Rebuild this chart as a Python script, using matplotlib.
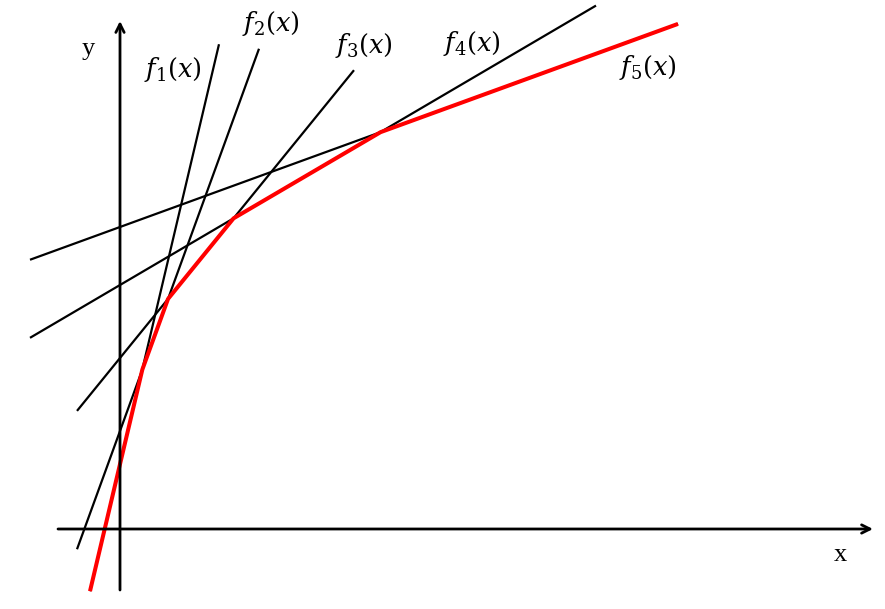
import matplotlib.pyplot as plt
import numpy as np

# lines f_i(x) = slope * x + intercept, drawn between x_start and x_end
labels = ["$f_1(x)$", "$f_2(x)$", "$f_3(x)$", "$f_4(x)$", "$f_5(x)$"]
slopes = [4.24, 2.75, 1.23, 0.587, 0.364]
intercepts = [0.65, 0.98, 1.71, 2.44, 3.02]
x_start = [-0.30, -0.43, -0.43, -0.90, -0.90]
x_end = [0.99, 1.39, 2.34, 4.76, 5.58]
label_pos = [(0.53, 4.60), (1.51, 5.05), (2.44, 4.84), (3.52, 4.85), (5.28, 4.61)]

# lower envelope range
env_start = -0.30
env_end = 5.58


def main():
    plt.rcParams["mathtext.fontset"] = "dejavuserif"
    fig = plt.figure(figsize=(8.85, 6.09), dpi=100)
    ax = fig.add_axes([0, 0, 1, 1])
    ax.set_xlim(-1.20, 7.65)
    ax.set_ylim(-0.80, 5.29)
    ax.axis("off")

    # axes with arrows
    ax.annotate("", xy=(7.53, 0), xytext=(-0.62, 0),
                arrowprops=dict(arrowstyle="->,head_length=0.6,head_width=0.3",
                                lw=2, color="black", shrinkA=0, shrinkB=0))
    ax.annotate("", xy=(0, 5.08), xytext=(0, -0.61),
                arrowprops=dict(arrowstyle="->,head_length=0.6,head_width=0.3",
                                lw=2, color="black", shrinkA=0, shrinkB=0))
    ax.text(-0.32, 4.80, "y", fontsize=19, family="Liberation Serif",
            ha="center", va="center")
    ax.text(7.20, -0.26, "x", fontsize=19, family="Liberation Serif",
            ha="center", va="center")

    for lab, m, b, x0, x1, pos in zip(labels, slopes, intercepts,
                                      x_start, x_end, label_pos):
        xs = np.array([x0, x1])
        ax.plot(xs, m * xs + b, color="black", lw=1.6, solid_capstyle="butt")
        ax.text(pos[0], pos[1], lab, fontsize=18.5, ha="center", va="center")

    # red piecewise minimum of all lines
    xs = np.linspace(env_start, env_end, 2000)
    ys = np.min([m * xs + b for m, b in zip(slopes, intercepts)], axis=0)
    ax.plot(xs, ys, color="red", lw=2.9, solid_capstyle="butt")

    fig.savefig("out.png", dpi=100)


if __name__ == '__main__':
    main()
